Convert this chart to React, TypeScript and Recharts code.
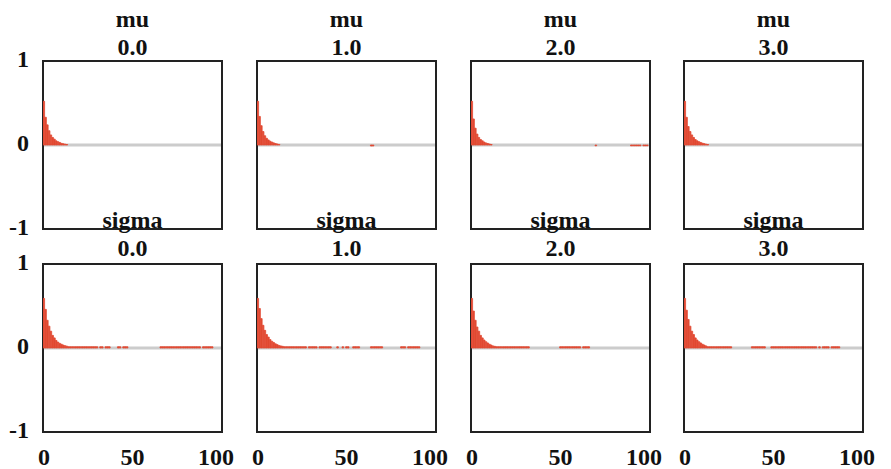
import { BarChart, Bar, XAxis, YAxis, CartesianGrid, ReferenceArea } from 'recharts';

// tiny residual autocorrelation, shows as a thin red line on the zero line
const T = 0.015;

const lags = Array.from({ length: 101 }, (_, i) => i);

const varNames = ['mu', 'sigma'];
const chainLabels = ['0.0', '1.0', '2.0', '3.0'];

const mu0 = [
  0.52, 0.33, 0.24, 0.17, 0.12, 0.09, 0.07, 0.05, 0.04, 0.03,
  0.02, 0.015, 0.01, 0.006, 0, 0, 0, 0, 0, 0,
  0, 0, 0, 0, 0, 0, 0, 0, 0, 0,
  0, 0, 0, 0, 0, 0, 0, 0, 0, 0,
  0, 0, 0, 0, 0, 0, 0, 0, 0, 0,
  0, 0, 0, 0, 0, 0, 0, 0, 0, 0,
  0, 0, 0, 0, 0, 0, 0, 0, 0, 0,
  0, 0, 0, 0, 0, 0, 0, 0, 0, 0,
  0, 0, 0, 0, 0, 0, 0, 0, 0, 0,
  0, 0, 0, 0, 0, 0, 0, 0, 0, 0,
  0,
];

const mu1 = [
  0.52, 0.34, 0.23, 0.16, 0.11, 0.08, 0.06, 0.045, 0.035, 0.025,
  0.018, 0.012, 0.007, 0, 0, 0, 0, 0, 0, 0,
  0, 0, 0, 0, 0, 0, 0, 0, 0, 0,
  0, 0, 0, 0, 0, 0, 0, 0, 0, 0,
  0, 0, 0, 0, 0, 0, 0, 0, 0, 0,
  0, 0, 0, 0, 0, 0, 0, 0, 0, 0,
  0, 0, 0, 0, -0.012, -0.012, 0, 0, 0, 0,
  0, 0, 0, 0, 0, 0, 0, 0, 0, 0,
  0, 0, 0, 0, 0, 0, 0, 0, 0, 0,
  0, 0, 0, 0, 0, 0, 0, 0, 0, 0,
  0,
];

const mu2 = [
  0.52, 0.31, 0.2, 0.13, 0.09, 0.065, 0.05, 0.035, 0.025, 0.018,
  0.012, 0.006, 0, 0, 0, 0, 0, 0, 0, 0,
  0, 0, 0, 0, 0, 0, 0, 0, 0, 0,
  0, 0, 0, 0, 0, 0, 0, 0, 0, 0,
  0, 0, 0, 0, 0, 0, 0, 0, 0, 0,
  0, 0, 0, 0, 0, 0, 0, 0, 0, 0,
  0, 0, 0, 0, 0, 0, 0, 0, 0, 0,
  -0.01, 0, 0, 0, 0, 0, 0, 0, 0, 0,
  0, 0, 0, 0, 0, 0, 0, 0, 0, 0,
  -0.01, -0.01, -0.01, -0.01, -0.01, -0.01, 0, -0.01, -0.01, -0.01,
  0,
];

const mu3 = [
  0.52, 0.33, 0.22, 0.16, 0.12, 0.09, 0.065, 0.05, 0.04, 0.03,
  0.022, 0.016, 0.01, 0.006, 0, 0, 0, 0, 0, 0,
  0, 0, 0, 0, 0, 0, 0, 0, 0, 0,
  0, 0, 0, 0, 0, 0, 0, 0, 0, 0,
  0, 0, 0, 0, 0, 0, 0, 0, 0, 0,
  0, 0, 0, 0, 0, 0, 0, 0, 0, 0,
  0, 0, 0, 0, 0, 0, 0, 0, 0, 0,
  0, 0, 0, 0, 0, 0, 0, 0, 0, 0,
  0, 0, 0, 0, 0, 0, 0, 0, 0, 0,
  0, 0, 0, 0, 0, 0, 0, 0, 0, 0,
  0,
];

const sigma0 = [
  0.59, 0.46, 0.33, 0.26, 0.2, 0.15, 0.12, 0.09, 0.07, 0.055,
  0.045, 0.035, 0.028, 0.022, T, T, T, T, T, T,
  T, T, T, T, T, T, T, T, T, T,
  T, 0, T, T, 0, T, T, T, 0, 0,
  0, 0, T, T, 0, T, T, T, 0, 0,
  0, 0, 0, 0, 0, 0, 0, 0, 0, 0,
  0, 0, 0, 0, 0, 0, T, T, T, T,
  T, T, T, T, T, T, T, T, T, T,
  T, T, T, T, T, T, T, T, T, 0,
  T, T, T, T, T, T, 0, 0, 0, 0,
  0,
];

const sigma1 = [
  0.59, 0.47, 0.35, 0.27, 0.21, 0.16, 0.13, 0.1, 0.08, 0.065,
  0.05, 0.04, 0.03, 0.025, 0.02, T, T, T, T, T,
  T, T, T, T, T, T, T, T, 0, T,
  T, T, T, T, 0, T, T, T, T, T,
  T, T, 0, 0, 0, T, 0, 0, T, 0,
  T, T, 0, 0, T, T, T, T, 0, 0,
  0, 0, 0, 0, T, T, T, T, T, T,
  T, 0, 0, 0, 0, 0, 0, 0, 0, 0,
  0, T, T, T, 0, T, T, T, T, T,
  T, T, 0, 0, 0, 0, 0, 0, 0, 0,
  0,
];

const sigma2 = [
  0.59, 0.44, 0.33, 0.25, 0.2, 0.15, 0.12, 0.095, 0.075, 0.06,
  0.045, 0.035, 0.025, 0.02, T, T, T, T, T, T,
  T, T, T, T, T, T, T, T, T, T,
  T, T, T, 0, 0, 0, 0, 0, 0, 0,
  0, 0, 0, 0, 0, 0, 0, 0, 0, 0,
  T, T, T, T, T, T, T, T, T, T,
  T, T, 0, T, T, T, T, 0, 0, 0,
  0, 0, 0, 0, 0, 0, 0, 0, 0, 0,
  0, 0, 0, 0, 0, 0, 0, 0, 0, 0,
  0, 0, 0, 0, 0, 0, 0, 0, 0, 0,
  0,
];

const sigma3 = [
  0.59, 0.45, 0.34, 0.26, 0.2, 0.16, 0.12, 0.095, 0.075, 0.06,
  0.045, 0.035, 0.025, T, T, T, T, T, T, T,
  T, T, T, T, T, T, T, 0, 0, 0,
  0, 0, 0, 0, 0, 0, 0, 0, T, T,
  T, T, T, T, T, T, 0, 0, 0, T,
  T, T, T, T, T, T, T, T, T, T,
  T, T, T, T, T, T, T, T, T, T,
  T, T, T, T, T, 0, T, 0, T, T,
  T, T, 0, T, T, T, T, T, 0, 0,
  0, 0, 0, 0, 0, 0, 0, 0, 0, 0,
  0,
];

const series = [
  [mu0, mu1, mu2, mu3],
  [sigma0, sigma1, sigma2, sigma3],
];

const PLOT_LEFT = [43, 257, 471, 684];
const PLOT_TOP = [61, 264];
const TITLE_TOP = [5, 206];
const PLOT_W = 179;
const PLOT_H = 168;
const Y_AXIS_W = 40;
const TOP_PAD = 20;

const FONT = '"Liberation Serif", "Times New Roman", serif';
const tickStyle = { fontSize: 24, fontWeight: 'bold', fill: '#111', fontFamily: FONT };
// keeps the ticks (and so the zero grid line) but draws no label
const noTick = () => <g />;

function AcfPanel({ values, row, col }: { values: number[]; row: number; col: number }) {
  const data = lags.map((lag, i) => ({ lag, acf: values[i] }));
  return (
    <div style={{ position: 'absolute', left: PLOT_LEFT[col] - Y_AXIS_W, top: PLOT_TOP[row] - TOP_PAD }}>
      <BarChart
        width={Y_AXIS_W + PLOT_W + 12}
        height={TOP_PAD + PLOT_H + 40}
        data={data}
        margin={{ top: TOP_PAD, right: 12, bottom: 0, left: 0 }}
        barCategoryGap={0}
        barGap={0}
      >
        <CartesianGrid vertical={false} horizontalValues={[0]} stroke="#cccccc" strokeWidth={3} />
        <XAxis
          dataKey="lag"
          type="number"
          domain={[-0.5, 100.5]}
          ticks={[0, 50, 100]}
          height={40}
          axisLine={false}
          tickLine={false}
          tickSize={6}
          tickMargin={10}
          tick={row === 1 ? tickStyle : noTick}
          allowDataOverflow
        />
        <YAxis
          type="number"
          domain={[-1, 1]}
          ticks={[-1, 0, 1]}
          width={Y_AXIS_W}
          axisLine={false}
          tickLine={false}
          tickSize={6}
          tickMargin={8}
          tick={col === 0 ? { ...tickStyle, dy: -3 } : noTick}
        />
        <Bar dataKey="acf" fill="#E24A33" stroke="#E24A33" strokeWidth={0.8} barSize={3} isAnimationActive={false} />
        <ReferenceArea x1={-0.5} x2={100.5} y1={-1} y2={1} fill="none" stroke="#222" strokeWidth={2} ifOverflow="visible" />
      </BarChart>
    </div>
  );
}

export default function App() {
  return (
    <div style={{ position: 'absolute', left: 0, top: 0, width: 891, height: 469, background: '#fff', overflow: 'hidden' }}>
      {series.map((rowSeries, r) =>
        rowSeries.map((values, c) => <AcfPanel key={`${r}-${c}`} values={values} row={r} col={c} />)
      )}
      {series.map((_, r) =>
        chainLabels.map((label, c) => (
          <div
            key={`t-${r}-${c}`}
            style={{
              position: 'absolute',
              left: PLOT_LEFT[c],
              top: TITLE_TOP[r],
              width: PLOT_W,
              textAlign: 'center',
              fontFamily: FONT,
              fontSize: 24,
              fontWeight: 'bold',
              lineHeight: '28px',
              color: '#111',
            }}
          >
            {varNames[r]}
            <br />
            {label}
          </div>
        ))
      )}
    </div>
  );
}
